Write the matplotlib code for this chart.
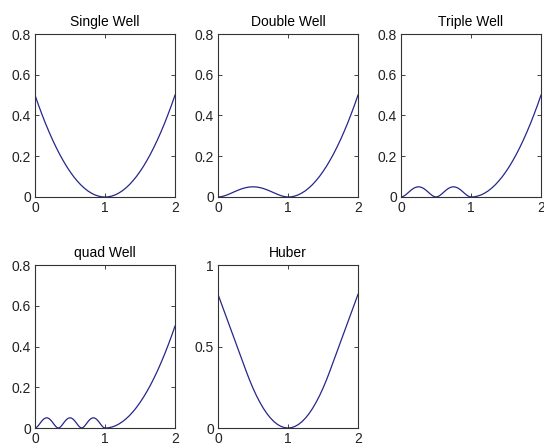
import numpy as np
import matplotlib
matplotlib.use("Agg")
import matplotlib.pyplot as plt

# --- values ---
# right half of every well: x = 1.00 .. 2.00 in steps of 0.05
RIGHT_HALF = [0.000, 0.001, 0.005, 0.011, 0.020, 0.031, 0.045, 0.061, 0.080, 0.101,
              0.125, 0.151, 0.180, 0.211, 0.245, 0.281, 0.320, 0.361, 0.405, 0.451, 0.500]
# one bump between two minima, sampled at 21 even steps (peak ~0.05)
BUMP = [0.000, 0.0018, 0.0065, 0.013, 0.0205, 0.0281, 0.0353, 0.0414, 0.0461, 0.049, 0.050,
        0.049, 0.0461, 0.0414, 0.0353, 0.0281, 0.0205, 0.013, 0.0065, 0.0018, 0.000]
# Huber: distance from 1 = 0 .. 1 in steps of 0.05
HUBER_HALF = [0.000, 0.0024, 0.0098, 0.0220, 0.0390, 0.0610, 0.0878, 0.1196, 0.1562, 0.1976,
              0.2440, 0.2952, 0.3514, 0.4099, 0.4685, 0.5270, 0.5856, 0.6442, 0.7027, 0.7613, 0.820]
WELLS = [1, 2, 3, 4]        # 1 = single well (left half is the mirrored parabola)
TITLES = ["Single Well", "Double Well", "Triple Well", "quad Well", "Huber"]
YTICKS = [0, 0.2, 0.4, 0.6, 0.8]
YLABELS = ["0", "0.2", "0.4", "0.6", "0.8"]
HTICKS = [0, 0.5, 1]
HLABELS = ["0", "0.5", "1"]
XTICKS = [0, 1, 2]

LINE = "#26268c"
plt.rcParams["font.family"] = ["Liberation Sans", "DejaVu Sans"]
FS = 10

# axes boxes in pixels (left, top, right, bottom) on a 544x448 canvas
W, H = 544, 448
BOXES = [(35, 34, 175, 197), (218, 34, 358, 197), (401, 34, 541, 197),
         (35, 265, 175, 428), (218, 265, 358, 428)]


def curve(n):
    xr = np.linspace(1, 2, len(RIGHT_HALF))
    if n == 1:
        xl = np.linspace(0, 1, len(RIGHT_HALF))
        yl = RIGHT_HALF[::-1]
    else:
        xl, yl = [], []
        for k in range(n - 1):
            seg = np.linspace(k / (n - 1), (k + 1) / (n - 1), len(BUMP))
            last = k == n - 2
            xl += list(seg if last else seg[:-1])
            yl += list(BUMP if last else BUMP[:-1])
    return np.concatenate([xl, xr[1:]]), np.concatenate([yl, RIGHT_HALF[1:]])


fig = plt.figure(figsize=(W / 100, H / 100), dpi=100)
fig.patch.set_facecolor("white")

for i, (l, t, r, b) in enumerate(BOXES):
    ax = fig.add_axes([l / W, 1 - b / H, (r - l) / W, (b - t) / H])
    if i < 4:
        x, y = curve(WELLS[i])
        ax.set_ylim(0, 0.8)
        ax.set_yticks(YTICKS, YLABELS)
    else:
        d = np.linspace(0, 1, len(HUBER_HALF))
        x = np.concatenate([1 - d[::-1], 1 + d[1:]])
        y = np.concatenate([HUBER_HALF[::-1], HUBER_HALF[1:]])
        ax.set_ylim(0, 1)
        ax.set_yticks(HTICKS, HLABELS)
    ax.plot(x, y, color=LINE, lw=0.9)
    ax.set_xlim(0, 2)
    ax.set_xticks(XTICKS, [str(v) for v in XTICKS])
    ax.tick_params(direction="in", length=3, width=0.6, top=True, right=True,
                   labelsize=FS, pad=3, colors="#222222")
    for s in ax.spines.values():
        s.set_linewidth(0.8)
        s.set_color("#333333")
    ax.set_title(TITLES[i], fontsize=FS, pad=6)

fig.savefig("out.png", dpi=100, facecolor="white")
